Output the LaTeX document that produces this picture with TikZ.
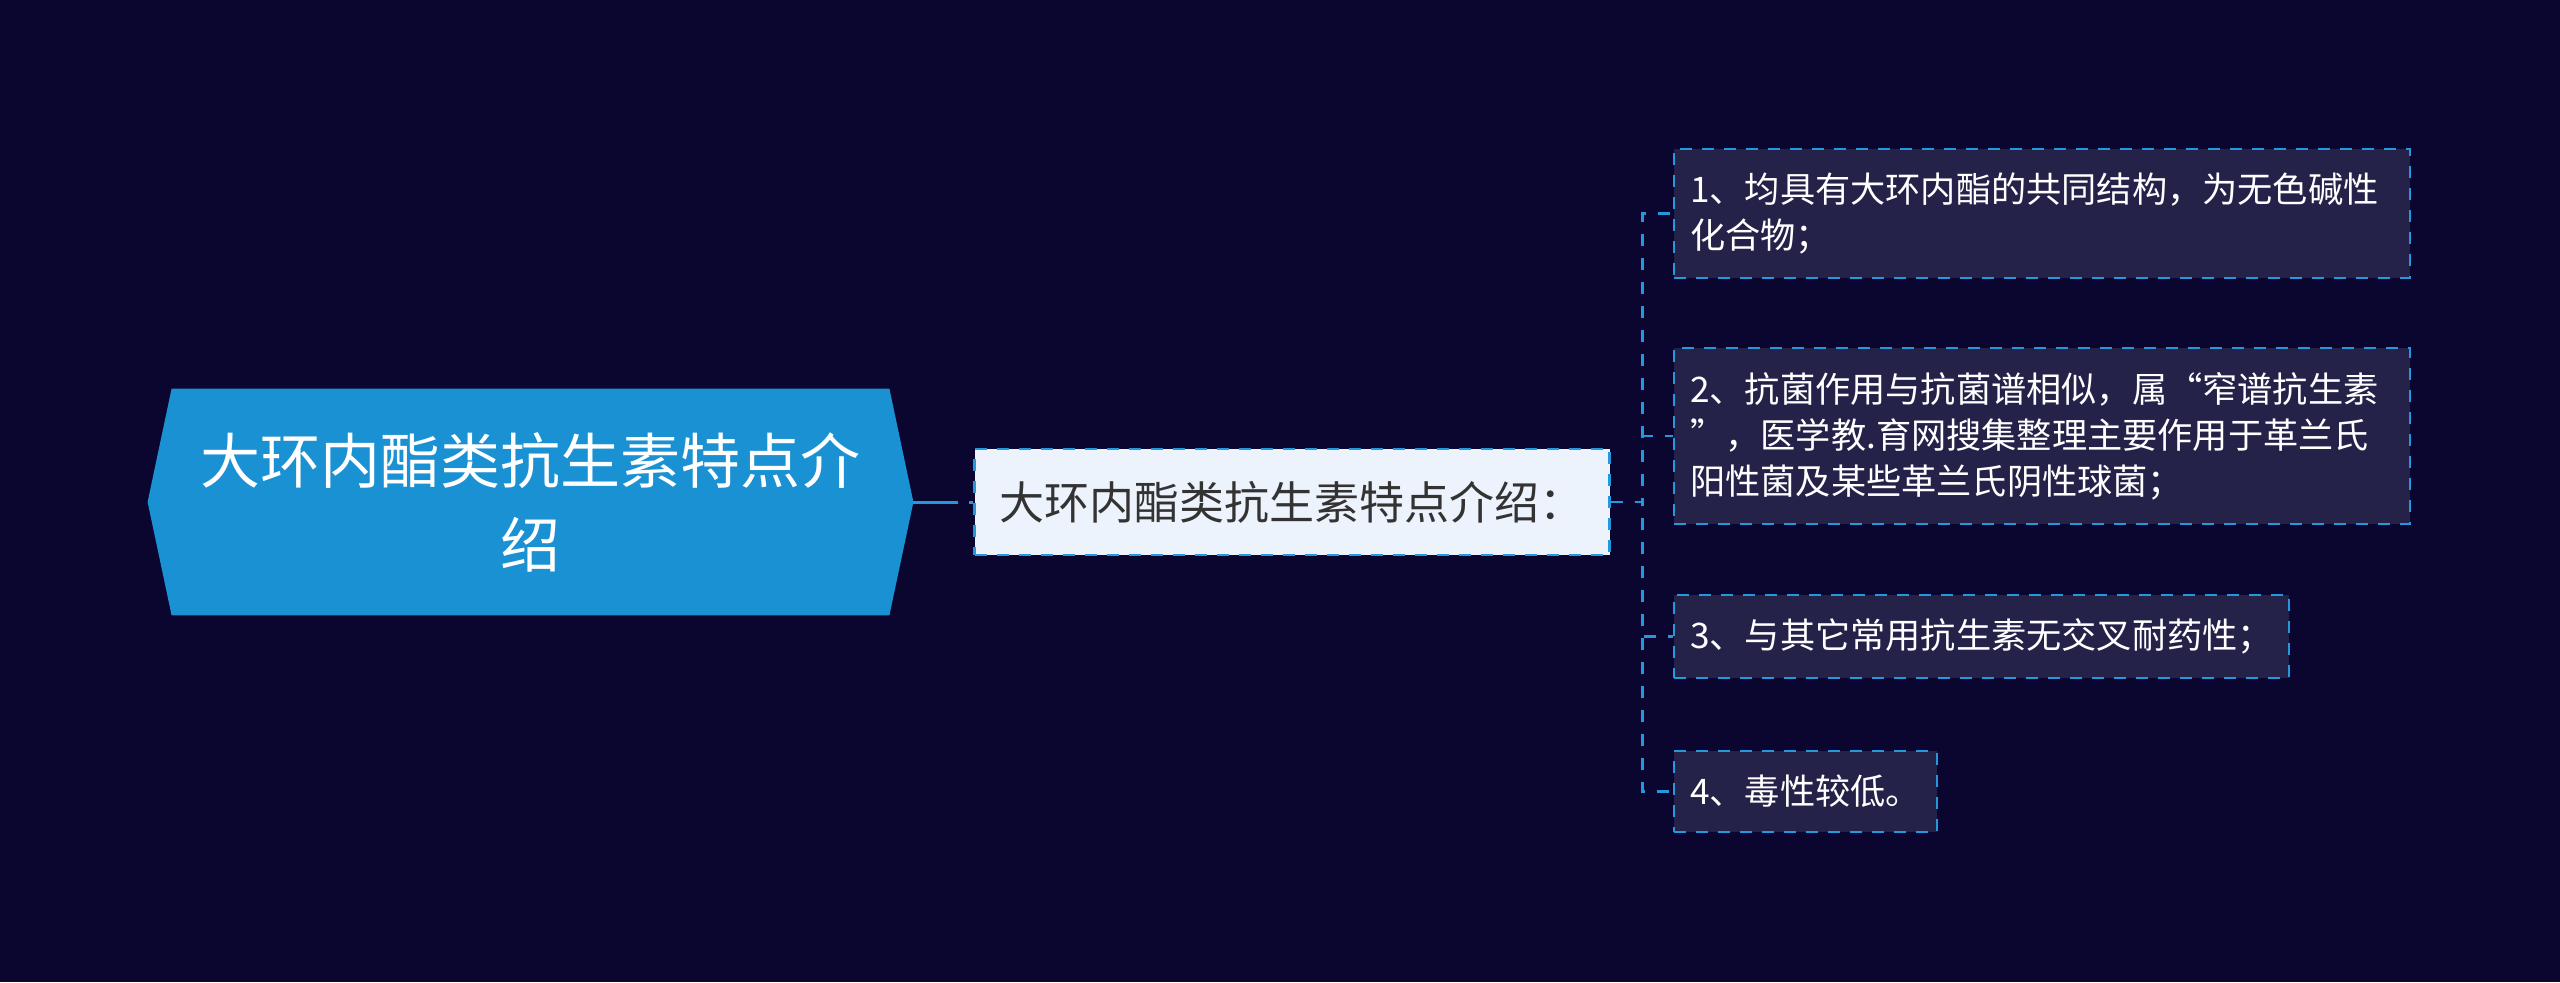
\documentclass[tikz,border=0pt]{standalone}
\usepackage{fontspec}
\setmainfont{Noto Sans CJK SC}
\usepackage{tikz}
\usetikzlibrary{calc}
\pgfdeclarelayer{back}
\pgfsetlayers{back,main}
\definecolor{bgnavy}{HTML}{0A0630}
\definecolor{rootblue}{HTML}{1991D2}
\definecolor{linkblue}{HTML}{2498DA}
\definecolor{leafpurple}{HTML}{252249}
\definecolor{midwhite}{HTML}{EDF3FC}
\definecolor{midtext}{HTML}{333333}

\begin{document}
\begin{tikzpicture}[x=0.5pt, y=-0.5pt, line join=miter]
\tikzstyle{rootnode}=[rectangle, minimum width=382.5pt, minimum height=113pt, inner sep=0pt, align=center, text=white, font=\fontsize{30pt}{42pt}\selectfont]
\tikzstyle{midnode}=[rectangle, fill=midwhite, draw=linkblue, line width=1.2pt, dash pattern=on 6pt off 5pt, minimum width=316pt, minimum height=53pt, inner xsep=12.5pt, text=midtext, font=\fontsize{22.5pt}{28pt}\selectfont]
\tikzstyle{leafnode}=[rectangle, anchor=west, fill=leafpurple, draw=linkblue, line width=1.2pt, dash pattern=on 6pt off 5pt, inner xsep=8pt, inner ysep=12pt, align=left, text=white, font=\fontsize{17.6pt}{23pt}\selectfont]
\tikzstyle{link}=[linkblue, line width=1.3pt, dash pattern=on 6pt off 6pt]
\tikzstyle{rootlink}=[linkblue, line width=1.5pt, dash pattern=on 22.5pt off 5.5pt]

\useasboundingbox (0,0) rectangle (2560,982);

\node[rootnode] (root) at (530.5,502) {大环内酯类抗生素特点介\\绍};
\node[midnode] (mid) at (1292,502) {大环内酯类抗生素特点介绍：};

\node[leafnode, text width=352pt] (lf1) at (1673,213.5) {1、均具有大环内酯的共同结构，为无色碱性\\化合物；};
\node[leafnode, text width=352pt] (lf2) at (1673,436) {2、抗菌作用与抗菌谱相似，属“窄谱抗生素\\”，医学教.育网搜集整理主要作用于革兰氏\\阳性菌及某些革兰氏阴性球菌；};
\node[leafnode] (lf3) at (1673,636.5) {3、与其它常用抗生素无交叉耐药性；};
\node[leafnode] (lf4) at (1673,791.5) {4、毒性较低。};

\begin{pgfonlayer}{back}
\fill[bgnavy] (0,0) rectangle (2560,982);
\fill[rootblue] (root.west) -- ($(root.north west)+(24,0)$) -- ($(root.north east)+(-24,0)$) -- (root.east) -- ($(root.south east)+(-24,0)$) -- ($(root.south west)+(24,0)$) -- cycle;
\end{pgfonlayer}

\draw[rootlink] (root.east) -- (mid.west);
\draw[link] (mid.east) -- ++(32,0) |- (lf1.west);
\draw[link] (mid.east) -- ++(32,0) |- (lf2.west);
\draw[link] (mid.east) -- ++(32,0) |- (lf3.west);
\draw[link] (mid.east) -- ++(32,0) |- (lf4.west);
\end{tikzpicture}
\end{document}
